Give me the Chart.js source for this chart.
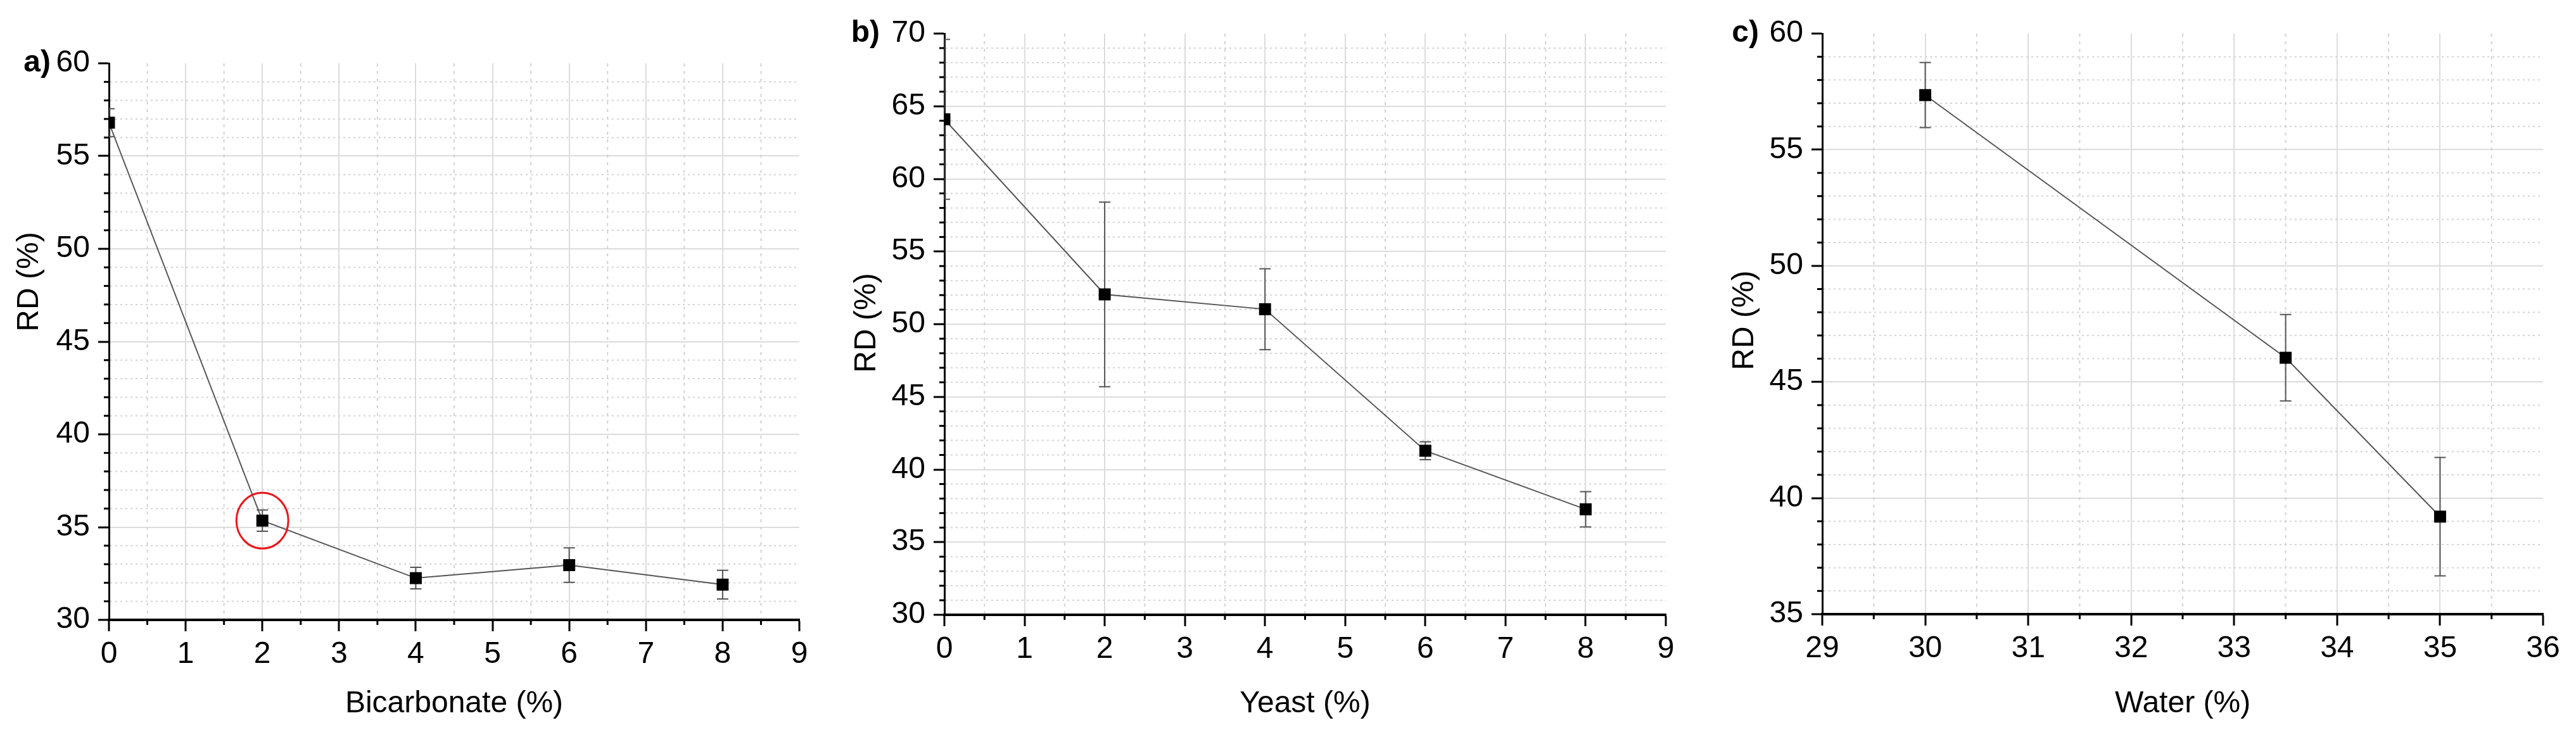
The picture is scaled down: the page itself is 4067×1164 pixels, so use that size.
<!DOCTYPE html>
<html>
<head>
<meta charset="utf-8">
<script src="https://cdn.jsdelivr.net/npm/chart.js@4.4.1/dist/chart.umd.min.js"></script>
<style>
  html, body { margin: 0; padding: 0; background: #fff; }
  body { width: 4067px; height: 1164px; position: relative; overflow: hidden; }
  .panel { position: absolute; top: 0; height: 1164px; }
</style>
</head>
<body>
<div class="panel" style="left:0;width:1330px"><canvas id="chartA"></canvas></div>
<div class="panel" style="left:1330px;width:1370px"><canvas id="chartB"></canvas></div>
<div class="panel" style="left:2700px;width:1367px"><canvas id="chartC"></canvas></div>
<script>
// values
const bicarbonate = [0, 2, 4, 6, 8];
const rdBicarbonate = [56.8, 35.35, 32.25, 32.95, 31.9];
const sdBicarbonate = [0.75, 0.57, 0.58, 0.93, 0.77];
const highlightIndex = 1; // circled point in a)

const yeast = [0, 2, 4, 6, 8];
const rdYeast = [64.1, 52.05, 51.03, 41.29, 37.26];
const sdYeast = [5.5, 6.35, 2.78, 0.62, 1.21];

const water = [30, 33.5, 35];
const rdWater = [57.35, 46.04, 39.2];
const sdWater = [1.4, 1.86, 2.55];

const yTitle = 'RD (%)';

Chart.defaults.font.family = "'Liberation Sans', Arial, sans-serif";
Chart.defaults.color = '#000';
Chart.defaults.animation = false;

// minor grid, minor ticks, error bars, labels
const extras = {
  id: 'extras',
  beforeDatasetsDraw(chart, args, o) {
    const {ctx, chartArea: a, scales: {x, y}} = chart;
    ctx.save();
    ctx.lineWidth = 2;
    ctx.strokeStyle = '#d4d4d4';

    // horizontal dotted lines at each unit between majors
    ctx.setLineDash([3, 5]);
    for (let v = y.min + 1; v < y.max; v++) {
      if (v % 5 === 0) continue;
      const py = y.getPixelForValue(v);
      ctx.beginPath(); ctx.moveTo(a.left + 2, py); ctx.lineTo(a.right, py); ctx.stroke();
    }
    // vertical dotted lines at halves
    ctx.setLineDash([5, 7]);
    for (let k = 0; k < (x.max - x.min); k++) {
      const px = x.getPixelForValue(x.min + k + 0.5);
      ctx.beginPath(); ctx.moveTo(px, a.top); ctx.lineTo(px, a.bottom - 2); ctx.stroke();
    }
    ctx.setLineDash([]);

    // minor ticks
    ctx.strokeStyle = '#000';
    ctx.lineWidth = 3;
    for (let v = y.min + 1; v < y.max; v++) {
      if (v % 5 === 0) continue;
      const py = y.getPixelForValue(v);
      ctx.beginPath(); ctx.moveTo(a.left - 8, py); ctx.lineTo(a.left, py); ctx.stroke();
    }
    for (let k = 0; k < (x.max - x.min); k++) {
      const px = x.getPixelForValue(x.min + k + 0.5);
      ctx.beginPath(); ctx.moveTo(px, a.bottom); ctx.lineTo(px, a.bottom + 8); ctx.stroke();
    }

    // error bars, clipped to the plot area
    ctx.beginPath();
    ctx.rect(a.left, a.top, a.right - a.left, a.bottom - a.top);
    ctx.clip();
    ctx.strokeStyle = '#555';
    ctx.lineWidth = 2;
    o.xs.forEach((xv, i) => {
      const px = x.getPixelForValue(xv);
      const top = y.getPixelForValue(o.ys[i] + o.sd[i]);
      const bot = y.getPixelForValue(o.ys[i] - o.sd[i]);
      ctx.beginPath();
      ctx.moveTo(px, top); ctx.lineTo(px, bot);
      ctx.moveTo(px - 9, top); ctx.lineTo(px + 9, top);
      ctx.moveTo(px - 9, bot); ctx.lineTo(px + 9, bot);
      ctx.stroke();
    });
    ctx.restore();
  },
  afterDraw(chart, args, o) {
    const {ctx, chartArea: a, scales: {x, y}} = chart;
    ctx.save();
    if (o.highlight != null) {
      const cx = x.getPixelForValue(o.xs[o.highlight]);
      const cy = y.getPixelForValue(o.ys[o.highlight]);
      ctx.strokeStyle = '#e8161b';
      ctx.lineWidth = 3;
      ctx.beginPath();
      ctx.ellipse(cx, cy, 41, 44, 0, 0, Math.PI * 2);
      ctx.stroke();
    }
    // panel letter
    ctx.fillStyle = '#000';
    ctx.font = "bold 48px 'Liberation Sans', Arial, sans-serif";
    ctx.textAlign = 'right';
    ctx.textBaseline = 'middle';
    ctx.fillText(o.letter, o.letterX, a.top);
    // y title
    ctx.font = "48px 'Liberation Sans', Arial, sans-serif";
    ctx.textAlign = 'center';
    ctx.translate(o.titleX, o.titleY);
    ctx.rotate(-Math.PI / 2);
    ctx.fillText(yTitle, 0, 0);
    ctx.restore();
  }
};

function makeChart(id, p) {
  const pts = p.xs.map((v, i) => ({x: v, y: p.ys[i]}));
  return new Chart(document.getElementById(id), {
    type: 'scatter',
    data: {
      datasets: [{
        data: pts,
        showLine: true,
        borderColor: '#555',
        borderWidth: 2,
        pointStyle: 'rect',
        pointRadius: 13.4,
        pointBackgroundColor: '#000',
        pointBorderWidth: 0
      }]
    },
    options: {
      responsive: true,
      maintainAspectRatio: false,
      devicePixelRatio: 1,
      layout: { padding: { left: 0, right: p.padR, top: p.padT, bottom: 0 } },
      plugins: {
        legend: { display: false },
        tooltip: { enabled: false },
        extras: { xs: p.xs, ys: p.ys, sd: p.sd, highlight: p.highlight,
                  letter: p.letter, letterX: p.letterX, titleX: p.titleX, titleY: p.titleY }
      },
      scales: {
        x: {
          type: 'linear',
          min: p.xMin, max: p.xMax,
          afterFit(s) { s.height = p.xh; },
          ticks: { stepSize: 1, autoSkip: false, maxRotation: 0, padding: 8,
                   font: { size: 48 }, color: '#000' },
          grid: {
            color: c => (c.tick && c.tick.value > p.xMin && c.tick.value < p.xMax) ? '#dcdcdc' : 'rgba(0,0,0,0)',
            lineWidth: 2,
            tickLength: 18, tickWidth: 3, tickColor: '#000'
          },
          border: { display: true, color: '#000', width: 4 },
          title: { display: true, text: p.xTitle, font: { size: 48 }, color: '#000',
                   padding: { top: 0, bottom: 23 } }
        },
        y: {
          min: p.yMin, max: p.yMax,
          afterFit(s) { s.width = p.yw; },
          ticks: { stepSize: 5, padding: 13, font: { size: 48 }, color: '#000' },
          grid: {
            color: c => (c.tick && c.tick.value > p.yMin && c.tick.value < p.yMax) ? '#dcdcdc' : 'rgba(0,0,0,0)',
            lineWidth: 2,
            tickLength: 17, tickWidth: 3, tickColor: '#000'
          },
          border: { display: true, color: '#000', width: 3 }
        }
      }
    },
    plugins: [extras]
  });
}

makeChart('chartA', {
  xs: bicarbonate, ys: rdBicarbonate, sd: sdBicarbonate, highlight: highlightIndex,
  xTitle: 'Bicarbonate (%)', xMin: 0, xMax: 9, yMin: 30, yMax: 60,
  yw: 172, padR: 68, padT: 100, xh: 185,
  letter: 'a)', letterX: 80, titleX: 47, titleY: 445
});
makeChart('chartB', {
  xs: yeast, ys: rdYeast, sd: sdYeast, highlight: null,
  xTitle: 'Yeast (%)', xMin: 0, xMax: 9, yMin: 30, yMax: 70,
  yw: 161, padR: 70, padT: 53, xh: 193,
  letter: 'b)', letterX: 59, titleX: 39, titleY: 510
});
makeChart('chartC', {
  xs: water, ys: rdWater, sd: sdWater, highlight: null,
  xTitle: 'Water (%)', xMin: 29, xMax: 36, yMin: 35, yMax: 60,
  yw: 177, padR: 52, padT: 53, xh: 194,
  letter: 'c)', letterX: 77, titleX: 55, titleY: 506
});
</script>
</body>
</html>
